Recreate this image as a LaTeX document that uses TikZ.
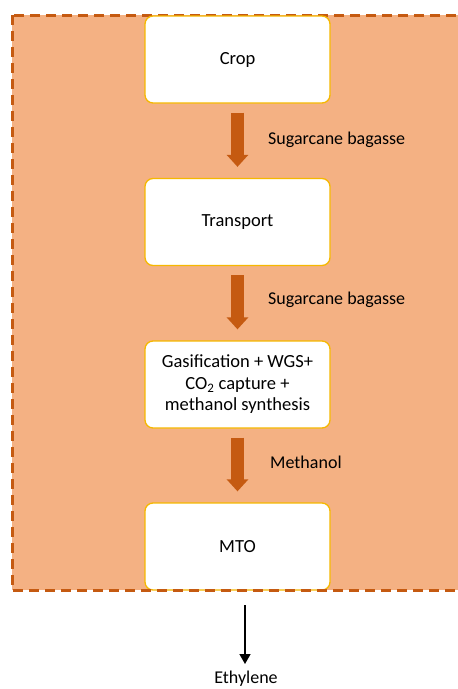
\documentclass[tikz,border=0pt]{standalone}
\usepackage{fontspec}
\setmainfont{Carlito}
\usetikzlibrary{arrows.meta}
\definecolor{bgfill}{HTML}{F4B183}
\definecolor{bgline}{HTML}{C55A11}
\definecolor{boxline}{HTML}{F5B800}
\definecolor{arrowc}{HTML}{C55A11}
\begin{document}
\begin{tikzpicture}[x=1pt,y=-1pt,
  stepbox/.style={draw=boxline, line width=1.3pt, fill=white, rounded corners=8pt,
    minimum width=185pt, minimum height=87pt, align=center, inner sep=0pt,
    font=\fontsize{18.5}{21.5}\selectfont},
  flowlabel/.style={anchor=west, inner sep=0pt, font=\fontsize{18}{21}\selectfont},
  bigarrow/.style={draw=arrowc, line width=13pt, -{Triangle[width=21pt,length=12pt]}},
  border/.style={draw=bgline, line width=3pt, dash pattern=on 10pt off 6pt}
]
\useasboundingbox (0,0) rectangle (458,689);
\fill[bgfill] (12,15) rectangle (475,590);
\node[stepbox] (mto) at (237.5,546.5) {MTO};
\draw[border] (12,15) rectangle (475,590);
\node[stepbox] (crop) at (237.5,59.5) {Crop};
\node[stepbox] (transport) at (237.5,222) {Transport};
\node[stepbox] (gas) at (237.5,384.5) {Gasification + WGS+\\CO\textsubscript{2} capture +\\methanol synthesis};

\draw[bigarrow] ([yshift=-9pt]crop.south) -- ([yshift=11pt]transport.north);
\draw[bigarrow] ([yshift=-9pt]transport.south) -- ([yshift=11pt]gas.north);
\draw[bigarrow] ([yshift=-9pt]gas.south) -- ([yshift=11pt]mto.north);

\node[flowlabel] (l1) at (268,140) {Sugarcane bagasse};
\node[flowlabel] (l2) at (268,300) {Sugarcane bagasse};
\node[flowlabel] (l3) at (270,462) {Methanol};

\node[anchor=base, inner sep=0pt, font=\fontsize{18}{21}\selectfont] (eth) at (246,683) {Ethylene};
\coordinate (ethtop) at (245,605);
\coordinate (ethtip) at (245,664);
\draw[line width=1.4pt, -{Triangle[width=11pt,length=10pt]}] (ethtop) -- (ethtip);
\end{tikzpicture}
\end{document}
